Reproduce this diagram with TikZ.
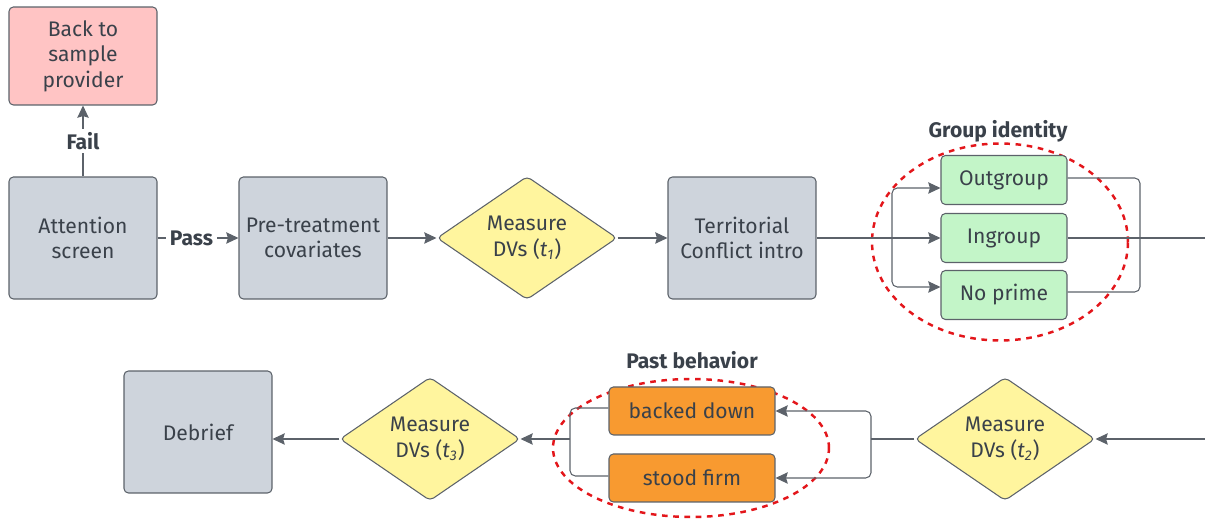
\documentclass[tikz,border=0pt]{standalone}
\usepackage{fontspec}
\setmainfont{Fira Sans}
\usetikzlibrary{arrows.meta,shapes.geometric,calc}
\definecolor{boxgray}{HTML}{CED4DC}
\definecolor{backpink}{HTML}{FFC4C4}
\definecolor{dvyellow}{HTML}{FFF59E}
\definecolor{primegreen}{HTML}{C3F5C8}
\definecolor{behaveorange}{HTML}{F89A30}
\definecolor{linegray}{HTML}{5C626A}
\definecolor{ink}{HTML}{3A414A}
\definecolor{ringred}{HTML}{E3161B}
\tikzset{
    >={Stealth[length=7pt,width=6.5pt,inset=1pt]},
    base/.style={draw=linegray, line width=0.6pt, rounded corners=2.5pt, align=center, text=ink, font=\fontsize{12}{14.5}\selectfont},
    stage/.style={base, fill=boxgray, minimum width=2.96cm, minimum height=2.44cm},
    backbox/.style={base, fill=backpink, minimum width=2.96cm, minimum height=1.96cm},
    measure/.style={base, diamond, fill=dvyellow, minimum width=3.6cm, minimum height=2.38cm, inner sep=0pt},
    prime/.style={base, fill=primegreen, minimum width=2.52cm, minimum height=0.98cm},
    behave/.style={base, fill=behaveorange, minimum width=3.32cm, minimum height=0.96cm},
    ring/.style={ellipse, draw=ringred, line width=1.4pt, dash pattern=on 3.2pt off 3.2pt, inner sep=0pt},
    tag/.style={font=\bfseries\fontsize{12}{14}\selectfont, text=ink},
    link/.style={draw=linegray, line width=0.6pt}
}
\begin{document}
\begin{tikzpicture}[x=0.02cm, y=-0.02cm]
    \useasboundingbox (0,0) rectangle (1205,519);

    % first row
    \node[backbox] (back) at (83,56) {Back to\\sample\\provider};
    \node[stage] (att) at (83,238) {Attention\\screen};
    \node[stage] (pre) at (313,238) {Pre-treatment\\covariates};
    \node[measure] (dv1) at (527,238) {Measure\\DVs (\textit{t\textsubscript{1}})};
    \node[stage] (terr) at (742,238) {Territorial\\Conflict intro};

    \draw[link,->] (att.north) -- node[tag, fill=white, inner sep=2pt] {Fail} (back.south);
    \draw[link,->] (att.east) -- node[tag, fill=white, inner sep=2pt, pos=0.42] {Pass} (pre.west);
    \draw[link,->] (pre.east) -- (dv1.west);
    \draw[link,->] (dv1.east) -- (terr.west);

    % group identity primes
    \node[ring, minimum width=5.12cm, minimum height=3.94cm] (grpring) at (1000,242) {};
    \node[tag] (grptag) at (998,131) {Group identity};
    \node[prime] (outg) at (1004,180) {Outgroup};
    \node[prime] (ing) at (1004,238) {Ingroup};
    \node[prime] (nop) at (1004,295) {No prime};
    \coordinate (split1) at (892,238);
    \coordinate (join1) at (1140,238);
    \coordinate (exitR) at (1205,238);

    \draw[link,->] (terr.east) -- (ing.west);
    \draw[link,->,rounded corners=3pt] (split1) |- ($(outg.west)+(0,8)$);
    \draw[link,->,rounded corners=3pt] (split1) |- ($(nop.west)+(0,-8)$);
    \draw[link,rounded corners=3pt] ($(outg.east)+(0,-2)$) -| (join1) |- ($(nop.east)+(0,-3)$);
    \draw[link] (ing.east) -- (exitR);

    % second row
    \node[stage] (deb) at (198,432) {Debrief};
    \node[measure] (dv3) at (430,439) {Measure\\DVs (\textit{t\textsubscript{3}})};
    \node[measure] (dv2) at (1005,439) {Measure\\DVs (\textit{t\textsubscript{2}})};

    % past behavior
    \node[ring, minimum width=5.52cm, minimum height=2.76cm] (pastring) at (691,448) {};
    \node[tag] (pasttag) at (692,360) {Past behavior};
    \node[behave] (bd) at (692,411) {backed down};
    \node[behave] (sf) at (692,478) {stood firm};
    \coordinate (entR) at (1205,439);
    \coordinate (split2) at (871,439);
    \coordinate (join2) at (570,439);

    \draw[link,->] (entR) -- (dv2.east);
    \draw[link] (dv2.west) -- (split2);
    \draw[link,->,rounded corners=3pt] (split2) |- (bd.east);
    \draw[link,->,rounded corners=3pt] (split2) |- (sf.east);
    \draw[link,rounded corners=3pt] ($(bd.west)+(0,-3)$) -| (join2) |- ($(sf.west)+(0,-2)$);
    \draw[link,->] (join2) -- (dv3.east);
    \draw[link,->] (dv3.west) -- (dv3.west -| deb.east);
\end{tikzpicture}
\end{document}
